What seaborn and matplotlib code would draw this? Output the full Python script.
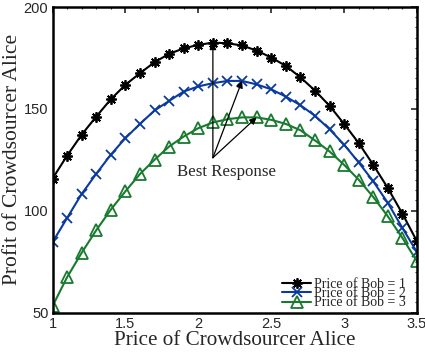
import matplotlib
matplotlib.use("Agg")
import matplotlib.pyplot as plt
import seaborn as sns
import pandas as pd
import numpy as np
from matplotlib.ticker import MultipleLocator

price_alice = [1.0, 1.1, 1.2, 1.3, 1.4, 1.5, 1.6, 1.7, 1.8, 1.9, 2.0, 2.1, 2.2,
               2.3, 2.4, 2.5, 2.6, 2.7, 2.8, 2.9, 3.0, 3.1, 3.2, 3.3, 3.4, 3.5]
profit_bob1 = [115.7, 127.0, 137.3, 146.2, 154.7, 161.8, 167.5, 172.9, 177.0, 179.7,
               181.4, 182.5, 182.2, 181.1, 178.6, 175.2, 171.1, 165.5, 159.0, 151.5,
               142.6, 133.2, 122.5, 111.1, 98.5, 84.9]
profit_bob2 = [84.5, 96.4, 108.2, 118.1, 127.5, 135.6, 142.6, 149.2, 153.9, 158.5,
               161.0, 162.6, 163.7, 163.7, 162.0, 159.6, 156.0, 151.8, 146.6, 140.0,
               132.4, 123.7, 114.4, 103.8, 91.5, 79.6]
profit_bob3 = [53.1, 67.3, 79.3, 90.4, 100.5, 109.5, 118.0, 125.0, 131.5, 136.4,
               140.5, 143.3, 144.9, 145.8, 145.8, 144.6, 142.6, 139.5, 134.5, 129.1,
               122.5, 115.2, 106.7, 97.2, 86.6, 75.1]
series_labels = ["Price of Bob = 1", "Price of Bob = 2", "Price of Bob = 3"]
x_ticks = [1, 1.5, 2, 2.5, 3, 3.5]
x_tick_labels = ["1", "1.5", "2", "2.5", "3", "3.5"]
y_ticks = [50, 100, 150, 200]
best_x = [2.1, 2.3, 2.4]
best_y = [182.5, 163.7, 145.8]

df = pd.DataFrame({
    "price": price_alice * 3,
    "profit": profit_bob1 + profit_bob2 + profit_bob3,
    "series": [series_labels[0]] * 26 + [series_labels[1]] * 26 + [series_labels[2]] * 26,
})

sns.set_theme(style="white")
plt.rcParams["font.family"] = ["Liberation Serif", "DejaVu Serif"]

fig = plt.figure(figsize=(4.25, 3.6), dpi=100)
ax = fig.add_axes([52.5 / 425, 1 - 312.5 / 360, (417 - 52.5) / 425, (312.5 - 7) / 360])

colors = ["#000000", "#0b3a9e", "#187a2f"]
markers = [(8, 2, 0), "x", "^"]
sizes = [7.5, 6.5, 9]
for i, lab in enumerate(series_labels):
    sub = df[df["series"] == lab]
    sns.lineplot(data=sub, x="price", y="profit", ax=ax, color=colors[i],
                 marker=markers[i], markersize=sizes[i], markeredgewidth=1.3,
                 markerfacecolor="none" if i == 2 else colors[i],
                 markeredgecolor=colors[i], linewidth=1.5, label=lab)

ax.set_xlim(1, 3.5)
ax.set_ylim(50, 200)
ax.set_xticks(x_ticks)
ax.set_xticklabels(x_tick_labels)
ax.set_yticks(y_ticks)
ax.xaxis.set_minor_locator(MultipleLocator(0.1))
ax.yaxis.set_minor_locator(MultipleLocator(5))
ax.tick_params(which="both", direction="in", top=True, right=True)
ax.tick_params(which="major", length=4, width=1.2, labelsize=10.5, pad=3)
ax.tick_params(which="minor", length=1.5, width=0.8)
for t in ax.get_xticklabels() + ax.get_yticklabels():
    t.set_fontfamily(["Liberation Sans", "DejaVu Sans"])
for s in ax.spines.values():
    s.set_linewidth(1.8)
    s.set_color("black")

ax.set_xlabel("Price of Crowdsourcer Alice", fontsize=15.2, labelpad=0)
ax.set_ylabel("Profit of Crowdsourcer Alice", fontsize=15.5, labelpad=1)

for bx, by in zip(best_x, best_y):
    ax.annotate("", xy=(bx, by), xytext=(2.1, 126),
                arrowprops=dict(arrowstyle="-|>", color="black", lw=0.9,
                                mutation_scale=10, shrinkA=0, shrinkB=0))
ax.text(2.19, 119, "Best Response", ha="center", va="center", fontsize=12.2)

leg = ax.legend(loc="lower right", bbox_to_anchor=(1 - 11 / 364.5, 3 / 305.5),
                fontsize=10, frameon=False, labelspacing=-0.27,
                handlelength=2.1, handletextpad=0.2, borderaxespad=0.0,
                borderpad=0.0)

fig.savefig("out.png", dpi=100)
